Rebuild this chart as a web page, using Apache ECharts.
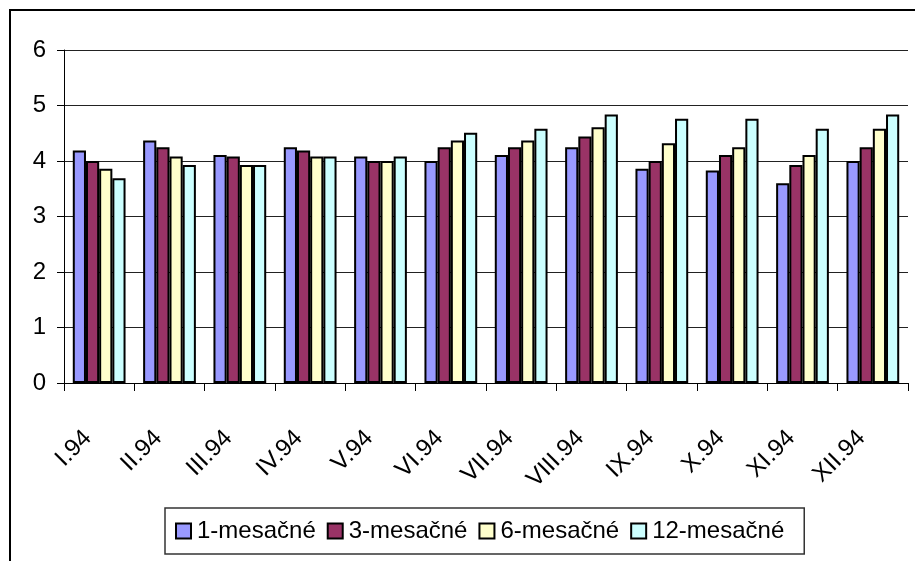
<!DOCTYPE html>
<html>
<head>
<meta charset="utf-8">
<script src="https://cdn.jsdelivr.net/npm/echarts@6/dist/echarts.min.js"></script>
<style>
  html, body { margin: 0; padding: 0; background: #fff; }
  #chart { width: 915px; height: 561px; }
</style>
</head>
<body>
<div id="chart"></div>
<script>
// Months of 1994
const months = ['I.94', 'II.94', 'III.94', 'IV.94', 'V.94', 'VI.94', 'VII.94', 'VIII.94', 'IX.94', 'X.94', 'XI.94', 'XII.94'];

// Rates by maturity
const m1  = [4.19, 4.37, 4.11, 4.25, 4.08, 4.00, 4.11, 4.25, 3.86, 3.83, 3.60, 4.00];
const m3  = [4.00, 4.25, 4.08, 4.19, 4.00, 4.25, 4.25, 4.44, 4.00, 4.11, 3.93, 4.25];
const m6  = [3.86, 4.08, 3.93, 4.08, 4.00, 4.37, 4.37, 4.61, 4.32, 4.25, 4.11, 4.58];
const m12 = [3.69, 3.93, 3.93, 4.08, 4.08, 4.51, 4.58, 4.84, 4.76, 4.76, 4.58, 4.84];

const seriesNames = ['1-mesačné', '3-mesačné', '6-mesačné', '12-mesačné'];
const seriesColors = ['#9999FF', '#993366', '#FFFFCC', '#CCFFFF'];
const yTicks = [0, 1, 2, 3, 4, 5, 6];

const font = 'Liberation Sans, Arial, sans-serif';
const chart = echarts.init(document.getElementById('chart'), null, { renderer: 'canvas' });

const values = [m1, m3, m6, m12];
const series = seriesNames.map((name, i) => ({
  name: name,
  type: 'bar',
  data: values[i],
  barGap: '0%',
  barCategoryGap: '25%',
  itemStyle: { color: seriesColors[i], borderColor: '#000', borderWidth: 2 }
}));

chart.setOption({
  animation: false,
  backgroundColor: '#fff',
  graphic: [{
    type: 'rect',
    shape: { x: 10, y: 10, width: 1000, height: 1000 },
    style: { fill: 'none', stroke: '#000', lineWidth: 2 },
    silent: true
  }],
  grid: { left: 64, right: 7, top: 50, bottom: 178, containLabel: false },
  legend: {
    data: seriesNames,
    icon: 'rect',
    left: 165,
    top: 508,
    orient: 'horizontal',
    itemWidth: 15,
    itemHeight: 15,
    itemGap: 11,
    padding: [11, 20, 11, 10],
    backgroundColor: '#fff',
    borderColor: '#333',
    borderWidth: 1.5,
    textStyle: { fontFamily: font, fontSize: 24, color: '#000', padding: [0, 0, 0, 1] }
  },
  xAxis: {
    type: 'category',
    data: months,
    boundaryGap: true,
    axisLine: { lineStyle: { color: '#000', width: 1 } },
    axisTick: { show: true, length: 8, lineStyle: { color: '#000' } },
    axisLabel: {
      interval: 0,
      rotate: 45,
      margin: 40,
      padding: [0, 16, 0, 0],
      fontFamily: font,
      fontSize: 24,
      color: '#000'
    }
  },
  yAxis: {
    type: 'value',
    min: yTicks[0],
    max: yTicks[yTicks.length - 1],
    interval: 1,
    axisLine: { show: true, lineStyle: { color: '#000', width: 1 } },
    axisTick: { show: true, length: 7, lineStyle: { color: '#000' } },
    axisLabel: { margin: 18, fontFamily: font, fontSize: 24, color: '#000' },
    splitLine: { show: true, lineStyle: { color: '#222', width: 1 } }
  },
  series: series
});
</script>
</body>
</html>
